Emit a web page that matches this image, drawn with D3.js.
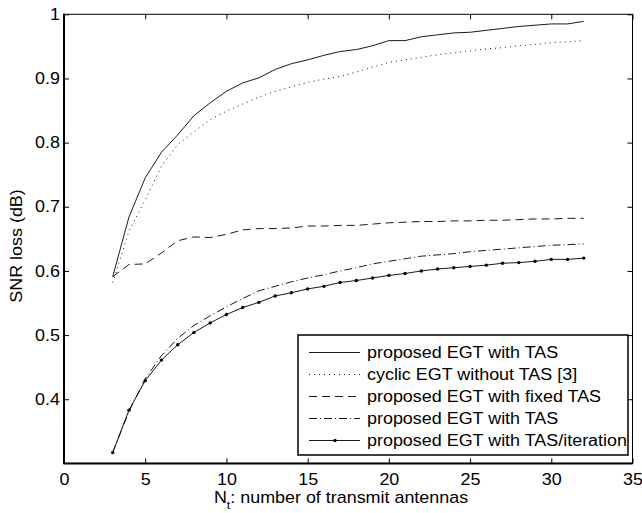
<!DOCTYPE html>
<html><head><meta charset="utf-8">
<script src="https://cdn.jsdelivr.net/npm/d3@7"></script>
<style>body{margin:0;background:#fff}svg{display:block}text{font-family:"Liberation Sans",Arial,Helvetica,sans-serif;fill:#000}</style>
</head><body><svg id="c" width="642" height="513"></svg>
<script>
const nt = d3.range(3, 33);
const seriesNames = ["proposed EGT with TAS","cyclic EGT without TAS [3]","proposed EGT with fixed TAS","proposed EGT with TAS","proposed EGT with TAS/iteration"];
const egtTas = [0.591,0.684,0.745,0.785,0.812,0.842,0.862,0.880,0.893,0.901,0.914,0.923,0.929,0.936,0.942,0.945,0.951,0.959,0.959,0.965,0.968,0.971,0.972,0.975,0.978,0.981,0.983,0.985,0.985,0.989];
const cyclic = [0.582,0.662,0.711,0.763,0.797,0.817,0.836,0.849,0.860,0.871,0.880,0.887,0.894,0.899,0.903,0.910,0.918,0.925,0.929,0.933,0.937,0.940,0.943,0.946,0.948,0.951,0.953,0.956,0.957,0.959];
const fixedTas = [0.591,0.610,0.611,0.628,0.647,0.653,0.652,0.657,0.664,0.666,0.666,0.667,0.670,0.670,0.671,0.671,0.673,0.675,0.676,0.677,0.677,0.678,0.678,0.679,0.679,0.680,0.681,0.681,0.682,0.682];
const egtTas2 = [0.317,0.381,0.432,0.468,0.495,0.515,0.530,0.544,0.557,0.569,0.576,0.583,0.589,0.594,0.600,0.605,0.611,0.615,0.619,0.623,0.625,0.627,0.630,0.632,0.634,0.636,0.638,0.640,0.641,0.642];
const iterTas = [0.317,0.383,0.429,0.461,0.485,0.504,0.519,0.532,0.543,0.551,0.561,0.566,0.572,0.576,0.582,0.585,0.589,0.593,0.596,0.600,0.603,0.605,0.607,0.609,0.612,0.613,0.615,0.618,0.618,0.620];
const xTicks = [0,5,10,15,20,25,30,35];
const yTicks = [0.4,0.5,0.6,0.7,0.8,0.9,1];
const styles = [
  {dash:null, marker:false},
  {dash:"1,4", marker:false},
  {dash:"8,5", marker:false},
  {dash:"8,3,1,3", marker:false},
  {dash:null, marker:true}
];
const allSeries = [egtTas, cyclic, fixedTas, egtTas2, iterTas];

const L=64, R=632.5, T=14.3, B=463.4, STRETCH=1.12;
const svg = d3.select("#c");
const x = d3.scaleLinear().domain([0,35]).range([L,R]);
const y = d3.scaleLinear().domain([0.3,1]).range([B,T]);

function stretchText(sel){
  sel.each(function(){
    const w = this.getComputedTextLength();
    if (w>0) { this.setAttribute("textLength", w*STRETCH); this.setAttribute("lengthAdjust","spacingAndGlyphs"); }
  });
}

// series
const line = d3.line().x((d,i)=>x(nt[i])).y(d=>y(d));
const g = svg.append("g");
allSeries.forEach((s,k)=>{
  g.append("path").attr("d", line(s)).attr("fill","none").attr("stroke","#000")
   .attr("stroke-width",0.9).attr("stroke-dasharray", styles[k].dash);
  if (styles[k].marker) {
    g.selectAll(null).data(s).enter().append("circle")
     .attr("cx",(d,i)=>x(nt[i])).attr("cy",d=>y(d)).attr("r",1.7).attr("fill","#000");
  }
});

// axes
const fs = "16px";
const xa = svg.append("g").attr("transform",`translate(0,${B})`)
  .call(d3.axisBottom(x).tickValues(xTicks).tickSizeInner(-5).tickSizeOuter(0).tickPadding(10));
const xaT = svg.append("g").attr("transform",`translate(0,${T})`)
  .call(d3.axisTop(x).tickValues(xTicks).tickSizeInner(-5).tickSizeOuter(0).tickFormat(""));
const ya = svg.append("g").attr("transform",`translate(${L},0)`)
  .call(d3.axisLeft(y).tickValues(yTicks).tickSizeInner(-5).tickSizeOuter(0).tickPadding(8).tickFormat(d=>d===1?"1":d3.format(".1f")(d)));
const yaR = svg.append("g").attr("transform",`translate(${R},0)`)
  .call(d3.axisRight(y).tickValues(yTicks).tickSizeInner(-5).tickSizeOuter(0).tickFormat(""));
[xa,xaT,ya,yaR].forEach(a=>{ a.select(".domain").remove(); a.selectAll("line").attr("stroke","#000").attr("stroke-width",1); });
xa.selectAll("text").attr("font-size",fs).attr("font-family",null).attr("dy","0.71em").attr("y",10);
ya.selectAll("text").attr("font-size",fs).attr("font-family",null).attr("x",-4);
stretchText(xa.selectAll("text")); stretchText(ya.selectAll("text"));

// frame
svg.append("rect").attr("x",L).attr("y",T).attr("width",R-L).attr("height",B-T).attr("fill","none").attr("stroke","#000").attr("stroke-width",1);
svg.append("line").attr("x1",L).attr("x2",L).attr("y1",T-0.5).attr("y2",B+0.5).attr("stroke","#000").attr("stroke-width",2);
svg.append("line").attr("x1",L-0.5).attr("x2",R).attr("y1",B).attr("y2",B).attr("stroke","#000").attr("stroke-width",2);

// labels
const xl = svg.append("text").attr("transform",`translate(341,503) scale(${STRETCH},1)`).attr("text-anchor","middle").attr("font-size",fs);
xl.append("tspan").text("N");
xl.append("tspan").attr("font-size","11px").attr("dy",6).text("t");
xl.append("tspan").attr("dy",-6).text(": number of transmit antennas");

const yl = svg.append("text").attr("transform","translate(22,246) rotate(-90)").attr("text-anchor","middle").attr("font-size",fs).text("SNR loss (dB)");
stretchText(yl);

// legend
const lg = svg.append("g");
lg.append("rect").attr("x",298).attr("y",335).attr("width",330).attr("height",120).attr("fill","#fff").attr("stroke","#000").attr("stroke-width",1.5);
seriesNames.forEach((name,k)=>{
  const ry = 352.5 + k*22;
  lg.append("line").attr("x1",309).attr("x2",360).attr("y1",ry).attr("y2",ry).attr("stroke","#000").attr("stroke-width",0.9).attr("stroke-dasharray",styles[k].dash);
  if (styles[k].marker) lg.append("circle").attr("cx",335).attr("cy",ry).attr("r",1.7).attr("fill","#000");
  const t = lg.append("text").attr("x",367).attr("y",ry+5.5).attr("font-size",fs).text(name);
  stretchText(t);
});
</script></body></html>
